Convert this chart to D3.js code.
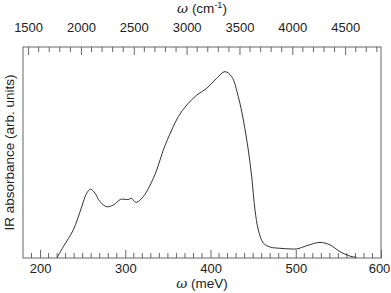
<!DOCTYPE html>
<html>
<head>
<meta charset="utf-8">
<script src="https://cdn.jsdelivr.net/npm/d3@7"></script>
<style>
  body { margin: 0; background: #fff; }
  text { font-family: "Liberation Sans", Arial, sans-serif; fill: #222; }
</style>
</head>
<body>
<div class="chart"></div>
<script>
// spectrum (energy in meV, absorbance in arb. units)
var energy = [220.2, 227.3, 239.0, 248.9, 254.7, 259.4, 264.5, 270.3, 278.2, 285.9,
              294.6, 299.7, 303.2, 307.5, 309.6, 313.4, 321.1, 328.2, 336.9, 344.6,
              354.5, 362.2, 372.1, 383.8, 395.5, 407.3, 417.0, 424.9, 432.6, 438.5,
              444.3, 448.3, 452.2, 456.1, 461.9, 469.8, 481.5, 493.2, 501.1, 512.8,
              528.4, 540.2, 551.9, 563.6, 571.5];
var absorbance = [0.3, 5.4, 13.3, 24.3, 30.7, 32.6, 30.7, 26.7, 24.3, 25.1,
                  27.8, 27.8, 27.7, 28.3, 27.2, 26.4, 29.1, 33.8, 41.7, 51.2,
                  60.7, 67.0, 72.5, 77.2, 80.4, 85.2, 88.3, 85.9, 76.4, 65.4,
                  51.2, 38.5, 22.7, 13.3, 7.1, 5.2, 4.6, 4.3, 4.3, 5.8,
                  7.4, 6.2, 3.0, 0.9, 0.3];
var meVTicks = [200, 300, 400, 500, 600];
var cmTicks = [1500, 2000, 2500, 3000, 3500, 4000, 4500];

var meVToCm = 8.0655;

var margin = { top: 47, right: 10, bottom: 35, left: 23 },
    width = 391 - margin.left - margin.right,
    height = 293 - margin.top - margin.bottom;

var svg = d3.select(".chart").append("svg")
    .attr("width", 391)
    .attr("height", 293)
    .append("g")
    .attr("transform", "translate(" + margin.left + "," + margin.top + ")");

var x = d3.scaleLinear().domain([180, 600]).range([0, width]);
var xTop = d3.scaleLinear().domain([180 * meVToCm, 600 * meVToCm]).range([0, width]);
var y = d3.scaleLinear().domain([0, 100]).range([height, 0]);

var axisColor = "#666";

// frame
svg.append("rect")
    .attr("width", width)
    .attr("height", height)
    .attr("fill", "none")
    .attr("stroke", axisColor)
    .attr("stroke-width", 1);

// bottom axis: minor every 10 meV, major every 100
var minorB = d3.range(190, 600, 10).filter(function (d) { return d % 100 !== 0; });
var bottomAxis = svg.append("g").attr("transform", "translate(0," + height + ")");
bottomAxis.call(d3.axisBottom(x).tickValues(meVTicks).tickSize(-8).tickPadding(6).tickFormat(d3.format("d")));
bottomAxis.selectAll(".minor").data(minorB).enter().append("line")
    .attr("class", "minor")
    .attr("x1", function (d) { return x(d); })
    .attr("x2", function (d) { return x(d); })
    .attr("y1", 0).attr("y2", -5)
    .attr("stroke", axisColor);

// top axis: minor every 100 cm-1, major every 500
var minorT = d3.range(1500, 4840, 100).filter(function (d) { return d % 500 !== 0; });
var topAxis = svg.append("g");
topAxis.call(d3.axisTop(xTop).tickValues(cmTicks).tickSize(-8).tickPadding(15).tickFormat(d3.format("d")));
topAxis.selectAll(".minor").data(minorT).enter().append("line")
    .attr("class", "minor")
    .attr("x1", function (d) { return xTop(d); })
    .attr("x2", function (d) { return xTop(d); })
    .attr("y1", 0).attr("y2", 5)
    .attr("stroke", axisColor);

svg.selectAll(".domain").remove();
svg.selectAll(".tick line").attr("stroke", axisColor);
svg.selectAll(".tick text").style("font-size", "13px").style("fill", "#222");
// keep the last bottom label inside the window
bottomAxis.selectAll(".tick text").filter(function (d) { return d === 600; }).attr("x", -2);

// axis titles
svg.append("text")
    .attr("x", width / 2)
    .attr("y", height + 30)
    .attr("text-anchor", "middle")
    .style("font-size", "13.5px")
    .html('<tspan font-style="italic" font-family="DejaVu Serif">ω</tspan> (meV)');

svg.append("text")
    .attr("x", width / 2)
    .attr("y", -34)
    .attr("text-anchor", "middle")
    .style("font-size", "13.5px")
    .html('<tspan font-style="italic" font-family="DejaVu Serif">ω</tspan> (cm<tspan dy="-5" font-size="9px">-1</tspan><tspan dy="5">)</tspan>');

svg.append("text")
    .attr("transform", "translate(-9," + (height / 2) + ") rotate(-90)")
    .attr("text-anchor", "middle")
    .style("font-size", "13.5px")
    .text("IR absorbance (arb. units)");

// spectrum
var points = energy.map(function (d, i) { return [d, absorbance[i]]; });
var line = d3.line()
    .x(function (d) { return x(d[0]); })
    .y(function (d) { return y(d[1]); })
    .curve(d3.curveCatmullRom);

svg.append("path")
    .datum(points)
    .attr("fill", "none")
    .attr("stroke", "#333")
    .attr("stroke-width", 1)
    .attr("d", line);
</script>
</body>
</html>
